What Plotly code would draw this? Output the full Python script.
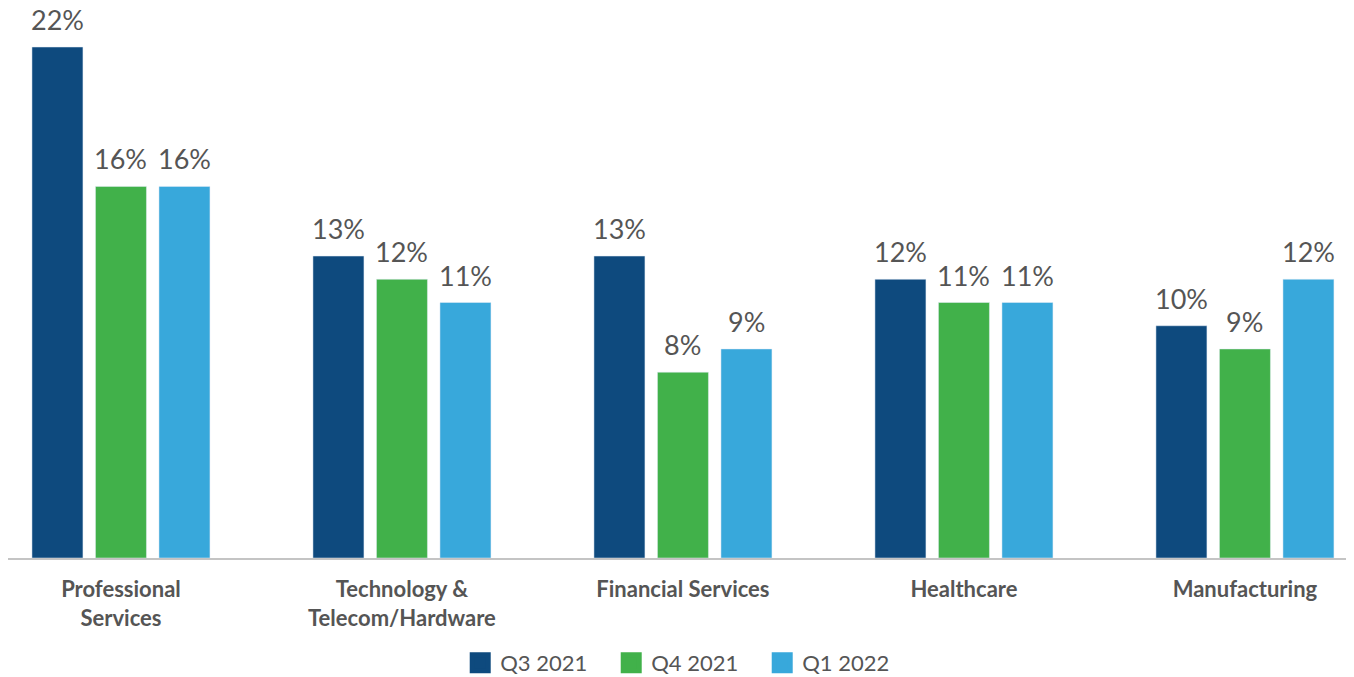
import plotly.graph_objects as go

categories = ["Professional<br>Services", "Technology &<br>Telecom/Hardware",
              "Financial Services", "Healthcare", "Manufacturing"]
series_names = ["Q3 2021", "Q4 2021", "Q1 2022"]
q3_2021 = [22, 13, 13, 12, 10]
q4_2021 = [16, 12, 8, 11, 9]
q1_2022 = [16, 11, 9, 11, 12]
colors = ["#0E4A7E", "#41B14A", "#38A8DB"]

FONT = "Lato"
TXT = "#555555"

# page has 8px body margin -> figure is 8px smaller than the window
W, H = 1346, 669
ML, MR, MT, MB = 0, 2, 0, 119
XR = [-0.402, 4.381]
BARGAP, GROUPGAP = 0.322, 0.197

px_per_cat = (W - ML - MR) / (XR[1] - XR[0])
slot_px = (1 - BARGAP) / 3 * px_per_cat

fig = go.Figure()
annotations = []
for i, (name, vals, col) in enumerate(zip(series_names, [q3_2021, q4_2021, q1_2022], colors)):
    fig.add_trace(go.Bar(
        x=categories, y=vals, name=name, marker_color=col,
        showlegend=False, hoverinfo="x+y",
    ))
    for c, v in zip(categories, vals):
        annotations.append(dict(
            x=c, y=v, xref="x", yref="y", text=f"{v}%", showarrow=False,
            yanchor="bottom", xanchor="center", xshift=(i - 1) * slot_px, yshift=9,
            font=dict(family=FONT, size=27, color=TXT),
        ))
for name, col in zip(series_names, colors):
    fig.add_trace(go.Scatter(
        x=[None], y=[None], mode="markers", name=name,
        marker=dict(symbol="square", size=16, color=col, line=dict(color=col, width=5)),
    ))

fig.update_layout(
    width=W, height=H,
    margin=dict(l=ML, r=MR, t=MT, b=MB, autoexpand=False),
    paper_bgcolor="white", plot_bgcolor="white",
    barmode="group", bargap=BARGAP, bargroupgap=GROUPGAP,
    font=dict(family=FONT, color=TXT),
    annotations=annotations,
    legend=dict(orientation="h", x=0.505, xanchor="center", y=-0.191, yanchor="middle",
                font=dict(family=FONT, size=22, color=TXT), itemsizing="trace",
                traceorder="normal", entrywidth=106, entrywidthmode="pixels"),
    xaxis=dict(range=XR, showgrid=False, showline=True,
               linecolor="#C4C4C4", linewidth=2, ticks="", ticklabelstandoff=11,
               tickfont=dict(family=FONT, size=22, color=TXT, weight="bold")),
    yaxis=dict(range=[0, 23.68], visible=False, showgrid=False, zeroline=False),
)
fig.write_html("out.html")
